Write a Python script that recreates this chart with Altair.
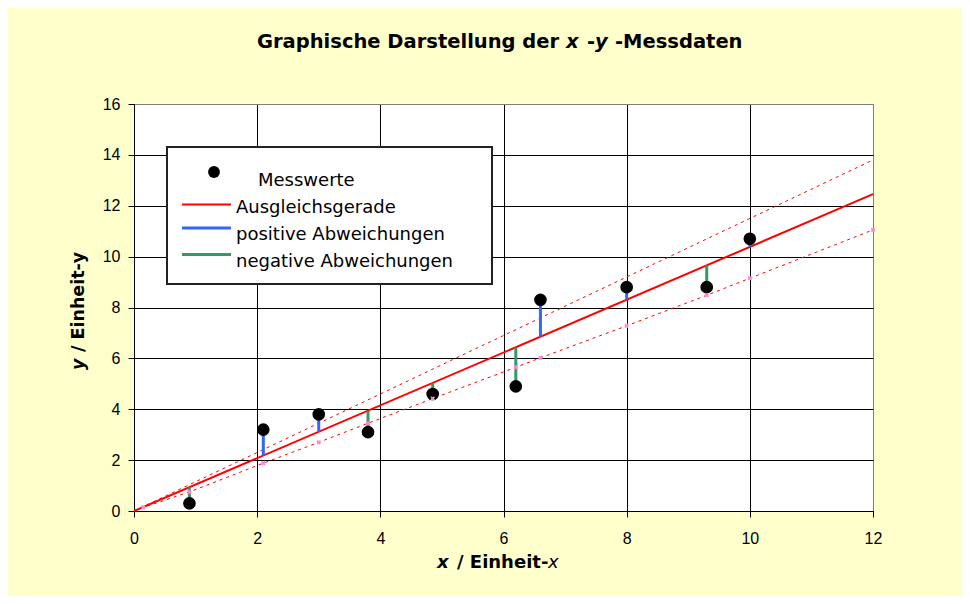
import altair as alt
import pandas as pd

# ---------------- data ----------------
x_vals = [0.9, 2.1, 3.0, 3.8, 4.85, 6.2, 6.6, 8.0, 9.3, 10.0]
y_vals = [0.3, 3.2, 3.8, 3.1, 4.6, 4.9, 8.3, 8.8, 8.8, 10.7]
fit_at_x = [0.93, 2.18, 3.11, 3.94, 5.03, 6.43, 6.85, 8.30, 9.65, 10.38]

fit_x = [0, 12]
fit_y = [0, 12.46]
upper_x = [0, 12]
upper_y = [0, 13.8]
lower_x = [0, 0.15, 0.9, 2.1, 3.0, 3.8, 4.85, 6.2, 6.6, 8.0, 9.3, 10.0, 12.0]
lower_y = [0, 0.14, 0.75, 1.88, 2.70, 3.45, 4.42, 5.65, 6.02, 7.28, 8.48, 9.15, 11.05]

x_ticks = [0, 2, 4, 6, 8, 10, 12]
y_ticks = [0, 2, 4, 6, 8, 10, 12, 14, 16]

legend_labels = ["Messwerte", "Ausgleichsgerade", "positive Abweichungen", "negative Abweichungen"]
title_parts = ["Graphische Darstellung der", "x", "-", "y", "-Messdaten"]

# ---------------- tables ----------------
pts = pd.DataFrame({"x": x_vals, "y": y_vals})
res = pd.DataFrame({"x": x_vals, "y": y_vals, "fit": fit_at_x,
                    "sign": ["pos" if a > b else "neg" for a, b in zip(y_vals, fit_at_x)]})
fit_df = pd.DataFrame({"x": fit_x, "y": fit_y})
up_df = pd.DataFrame({"x": upper_x, "y": upper_y})
lo_df = pd.DataFrame({"x": lower_x, "y": lower_y})
one = pd.DataFrame({"a": [0]})

# plot-area origin on the page
OX, OY = 134, 104
W, H = 739, 407

grid_x = {"condition": {"test": "datum.value >= 12", "value": "#808080"}, "value": "black"}
grid_y = {"condition": {"test": "datum.value >= 16", "value": "#808080"}, "value": "black"}

xaxis = alt.Axis(values=x_ticks, format="d", title="", labelFont="Liberation Sans",
                 labelFontSize=16, labelColor="black", labelPadding=13, tickColor="black",
                 tickSize=6, domainColor="black", domainWidth=1, gridColor=grid_x,
                 gridWidth=1, labelFlush=False)
yaxis = alt.Axis(values=y_ticks, format="d", title="", labelFont="Liberation Sans",
                 labelFontSize=16, labelColor="black", labelPadding=8, tickColor="black",
                 tickSize=6, domainColor="black", domainWidth=1, gridColor=grid_y,
                 gridWidth=1)

xs = alt.Scale(domain=[0, 12], nice=False, zero=False)
ys = alt.Scale(domain=[0, 16], nice=False, zero=False)


def X(f="x"):
    return alt.X(f"{f}:Q", scale=xs, axis=xaxis)


def Y(f="y"):
    return alt.Y(f"{f}:Q", scale=ys, axis=yaxis)


upper = alt.Chart(up_df).mark_line(color="#FF0000", strokeWidth=1, strokeDash=[3, 4]).encode(x=X(), y=Y())
lower = alt.Chart(lo_df).mark_line(color="#FF0000", strokeWidth=1, strokeDash=[3, 4]).encode(x=X(), y=Y())
fit = alt.Chart(fit_df).mark_line(color="#FF0000", strokeWidth=2).encode(x=X(), y=Y())
resid = alt.Chart(res).mark_rule(strokeWidth=3).encode(
    x=X(), y=Y(), y2="fit:Q",
    color=alt.Color("sign:N", scale=alt.Scale(domain=["pos", "neg"], range=["#3366FF", "#339966"]),
                    legend=None))
points = alt.Chart(pts).mark_circle(size=160, color="black", opacity=1).encode(x=X(), y=Y())
pink = alt.Chart(lo_df.iloc[1:]).mark_point(shape="cross", angle=45, filled=True, size=22,
                                             color="#FF88CC", opacity=1).encode(x=X(), y=Y())


def txt(text, px, py, size, weight="normal", style="normal", align="left", angle=0,
        font="DejaVu Sans", baseline="alphabetic"):
    kw = dict(text=text, font=font, fontSize=size, fontWeight=weight, fontStyle=style,
              align=align, baseline=baseline, color="black")
    if angle:
        kw["angle"] = angle
    return alt.Chart(one).mark_text(**kw).encode(x=alt.value(px - OX), y=alt.value(py - OY))


def hline(px1, px2, py, color, width):
    return alt.Chart(one).mark_rule(color=color, strokeWidth=width).encode(
        x=alt.value(px1 - OX), x2=alt.value(px2 - OX), y=alt.value(py - OY))


# legend box
leg_box = alt.Chart(one).mark_rect(fill="white", stroke="#222222", strokeWidth=2).encode(
    x=alt.value(167 - OX), x2=alt.value(492 - OX), y=alt.value(147 - OY), y2=alt.value(284 - OY))
leg_dot = alt.Chart(one).mark_circle(size=140, color="black", opacity=1).encode(
    x=alt.value(214 - OX), y=alt.value(172 - OY))
LS = 18
leg_layers = [
    leg_box, leg_dot,
    txt(legend_labels[0], 258, 186, LS),
    hline(182, 231, 204.5, "#FF0000", 2),
    txt(legend_labels[1], 236, 213, LS),
    hline(182, 231, 228, "#3366FF", 3),
    txt(legend_labels[2], 236, 240, LS),
    hline(182, 231, 254.5, "#339966", 3),
    txt(legend_labels[3], 236, 267, LS),
]

# title (mixed upright / italic pieces)
TS = 19.5
title_layers = [
    txt(title_parts[0], 257, 48, TS, weight="bold"),
    txt(title_parts[1], 566, 48, TS, weight="bold", style="italic"),
    txt(title_parts[2], 587, 48, TS, weight="bold"),
    txt(title_parts[3], 595, 48, TS, weight="bold", style="italic"),
    txt(title_parts[4], 615, 48, TS, weight="bold"),
]

# axis titles
axis_title_layers = [
    txt("x", 437, 568, 18, weight="bold", style="italic"),
    txt("/ Einheit-", 457, 568, 18, weight="bold"),
    txt("x", 548, 568, 18, style="italic"),
    txt("y", 84, 370, 17.5, weight="bold", style="italic", angle=270),
    txt("/ Einheit-y", 84, 352, 17.5, weight="bold", angle=270),
]

chart = alt.layer(
    upper, lower, fit, resid, points, pink,
    *leg_layers, *title_layers, *axis_title_layers
).properties(
    width=W, height=H,
    background="#FFFFCC",
    autosize=alt.AutoSizeParams(type="none"),
    padding={"left": 126, "top": 96, "right": 89, "bottom": 85},
).configure_view(fill="white", stroke="#808080", strokeWidth=1)

chart.save("out.html", embed_options={"renderer": "svg", "actions": False})
